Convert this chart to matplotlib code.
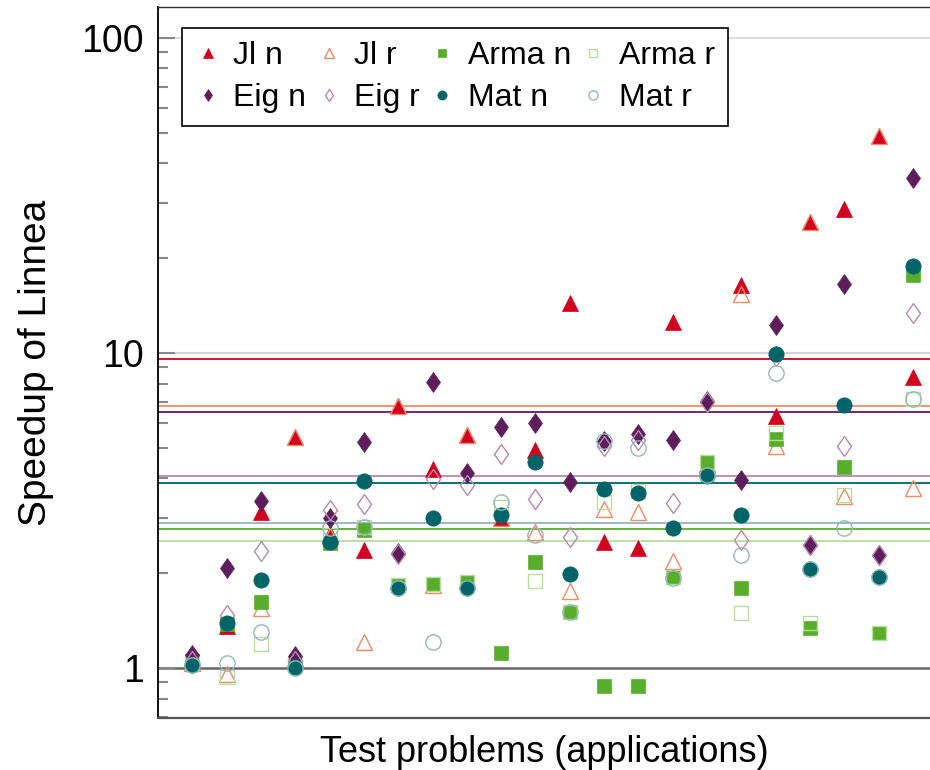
import numpy as np
import matplotlib
matplotlib.use('Agg')
import matplotlib.pyplot as plt
from matplotlib.markers import MarkerStyle
from matplotlib.transforms import Affine2D
from matplotlib.ticker import LogLocator, NullFormatter, FixedLocator

plt.rcParams['font.family'] = ['Liberation Sans Narrow', 'Liberation Sans', 'DejaVu Sans']

# speedups per test problem (22 applications)
jl_n = [1.04, 1.36, 3.13, 5.42, 2.66, 2.37, 6.80, 4.27, 5.49, 2.99, 4.92, 14.4, 2.51, 2.41, 12.5, 4.45, 16.4, 6.32, 26.0, 28.6, 48.7, 8.42]
jl_r = [1.04, 0.96, 1.55, 5.42, 2.62, 1.21, 6.80, 1.84, 5.50, 3.00, 2.71, 1.76, 3.19, 3.13, 2.19, 4.40, 15.4, 5.06, 26.0, 3.52, 48.7, 3.74]
arma_n = [1.05, 1.38, 1.62, 1.03, 2.49, 2.74, 1.83, 1.85, 1.88, 1.12, 2.17, 1.51, 0.877, 0.877, 1.95, 4.50, 1.80, 5.35, 1.34, 4.36, 1.29, 17.7]
arma_r = [1.04, 0.94, 1.19, 1.02, 2.65, 2.80, 1.83, 1.85, 1.87, 3.25, 1.89, 1.51, 3.37, 3.65, 1.95, 4.50, 1.50, 5.58, 1.39, 3.55, 1.29, 7.15]
eig_n = [1.10, 2.08, 3.40, 1.09, 3.00, 5.23, 2.31, 8.07, 4.17, 5.84, 5.98, 3.89, 5.27, 5.53, 5.29, 7.03, 3.94, 12.3, 2.45, 16.5, 2.29, 35.8]
eig_r = [1.05, 1.47, 2.35, 1.05, 3.17, 3.32, 2.30, 3.97, 3.80, 4.77, 3.44, 2.61, 5.08, 5.30, 3.33, 7.00, 2.54, 9.80, 2.45, 5.06, 2.29, 13.4]
mat_n = [1.02, 1.39, 1.90, 1.005, 2.52, 3.93, 1.80, 3.00, 1.79, 3.06, 4.52, 1.99, 3.69, 3.60, 2.78, 4.08, 3.05, 9.94, 2.06, 6.83, 1.94, 18.9]
mat_r = [1.02, 1.04, 1.30, 1.00, 2.78, 2.81, 1.80, 1.21, 1.80, 3.37, 2.64, 1.51, 5.25, 4.98, 1.93, 4.10, 2.29, 8.62, 2.06, 2.78, 1.94, 7.12]

labels = ['Jl n', 'Jl r', 'Arma n', 'Arma r', 'Eig n', 'Eig r', 'Mat n', 'Mat r']
series = [jl_n, jl_r, arma_n, arma_r, eig_n, eig_r, mat_n, mat_r]

colors = ['#d1001f', '#f08a64', '#58ad2a', '#b8dca0', '#5e1d5b', '#b58aae', '#006468', '#93b8bb']
diamond = MarkerStyle('D', transform=Affine2D().scale(0.72, 1.0))
markers = ['^', '^', 's', 's', diamond, diamond, 'o', 'o']
filled = [True, False, True, False, True, False, True, False]
sizes = [11, 11, 10.5, 10.5, 10, 10, 11, 11]

fig = plt.figure(figsize=(9.3, 7.7), dpi=100)
ax = fig.add_axes([0.170, 0.0675, 0.830, 0.9235])

x = np.arange(1, len(jl_n) + 1)

# reference lines
ax.axhline(10, color='#d4d4d4', lw=1.6, zorder=0)
ax.axhline(100, color='#d4d4d4', lw=1.2, zorder=0)
ax.axhline(1, color='#666666', lw=1.8, zorder=0)

# mean speedup of each series
for vals, c in zip(series, colors):
    ax.axhline(np.mean(vals), color=c, lw=1.3, zorder=1)

handles = []
for vals, lab, c, m, f, s in zip(series, labels, colors, markers, filled, sizes):
    if f:
        h, = ax.plot(x, vals, ls='none', marker=m, ms=s, color=c, mec=c, mew=0.5, label=lab, zorder=3)
    else:
        h, = ax.plot(x, vals, ls='none', marker=m, ms=s, mfc='none', mec=c, mew=1.0, label=lab, zorder=3)
    handles.append(h)

ax.set_yscale('log')
ax.set_ylim(0.694, 125.4)
ax.set_xlim(0, 22.5)

ax.yaxis.set_major_locator(FixedLocator([1, 10, 100]))
ax.set_yticklabels(['1', '10', '100'])
ax.yaxis.set_minor_locator(LogLocator(base=10, subs=np.arange(2, 10)))
ax.yaxis.set_minor_formatter(NullFormatter())
ax.tick_params(axis='y', which='major', direction='in', length=12, width=1.5, color='#888888',
               labelsize=27, pad=10)
ax.tick_params(axis='y', which='minor', direction='in', length=7, width=1.5, color='#888888')
ax.set_xticks([])

ax.spines['right'].set_visible(False)
ax.spines['left'].set_color('black')
ax.spines['left'].set_linewidth(1.3)
ax.spines['top'].set_color('#333333')
ax.spines['top'].set_linewidth(1.0)
ax.spines['bottom'].set_color('#555555')
ax.spines['bottom'].set_linewidth(1.6)

ax.set_ylabel('Speedup of Linnea', fontsize=28, labelpad=20)
ax.set_xlabel('Test problems (applications)', fontsize=26, labelpad=12)

# legend fills column by column, so interleave the two rows
order = [0, 4, 1, 5, 2, 6, 3, 7]
leg = ax.legend([handles[i] for i in order], [labels[i] for i in order],
                ncol=4, loc='upper left', bbox_to_anchor=(0.031, 0.9705), borderaxespad=0,
                fontsize=23, markerscale=0.6, frameon=True, fancybox=False, edgecolor='black',
                framealpha=1, borderpad=0.4, labelspacing=0.4, handlelength=0.8,
                handletextpad=0.4, columnspacing=0.3)
leg.get_frame().set_linewidth(1.2)

fig.savefig('out.png', dpi=100)
